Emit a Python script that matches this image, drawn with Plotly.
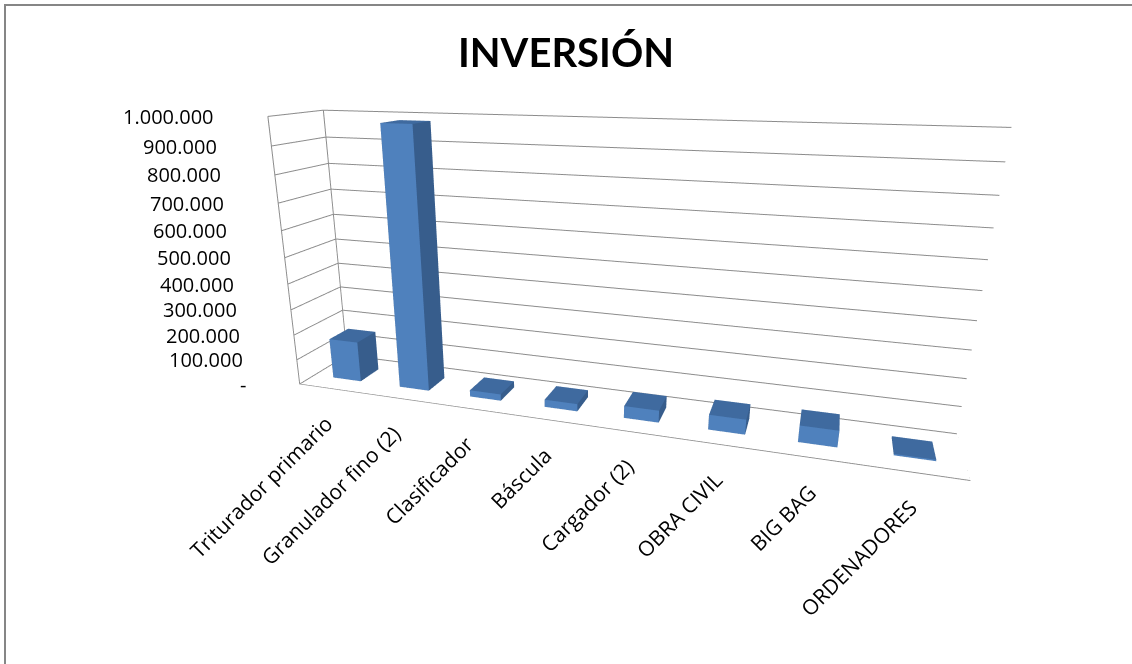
import plotly.graph_objects as go

# Investment per item (euros)
categories = ["Triturador primario", "Granulador fino (2)", "Clasificador", "Báscula",
              "Cargador (2)", "OBRA CIVIL", "BIG BAG", "ORDENADORES"]
values = [160000, 980000, 25000, 28000, 45000, 55000, 60000, 5000]

z_tickvals = [0, 100000, 200000, 300000, 400000, 500000, 600000, 700000, 800000, 900000, 1000000]
z_ticktext = ["-", "100.000", "200.000", "300.000", "400.000", "500.000",
              "600.000", "700.000", "800.000", "900.000", "1.000.000"]

FRONT = "#4F81BD"
SIDE = "#375D8C"
TOP = "#3F6A9F"

half_w = 0.21          # half bar width in category units
depth_lo, depth_hi = 0.3, 0.7   # bar extent along the depth axis
floor_depth = 1.0

xs, ys, zs, ii, jj, kk, fc = [], [], [], [], [], [], []
for idx, v in enumerate(values):
    x0, x1 = idx - half_w, idx + half_w
    base = len(xs)
    corners = [(x0, depth_lo, 0), (x1, depth_lo, 0), (x1, depth_hi, 0), (x0, depth_hi, 0),
               (x0, depth_lo, v), (x1, depth_lo, v), (x1, depth_hi, v), (x0, depth_hi, v)]
    for cx, cy, cz in corners:
        xs.append(cx); ys.append(cy); zs.append(cz)
    faces = [
        ((0, 1, 5), FRONT), ((0, 5, 4), FRONT),      # front
        ((1, 2, 6), SIDE), ((1, 6, 5), SIDE),        # right side
        ((4, 5, 6), TOP), ((4, 6, 7), TOP),          # top
        ((3, 2, 6), SIDE), ((3, 6, 7), SIDE),        # back
        ((0, 3, 7), SIDE), ((0, 7, 4), SIDE),        # left side
        ((0, 1, 2), SIDE), ((0, 2, 3), SIDE),        # bottom
    ]
    for (a, b, c), col in faces:
        ii.append(base + a); jj.append(base + b); kk.append(base + c); fc.append(col)

bars = go.Mesh3d(
    x=xs, y=ys, z=zs, i=ii, j=jj, k=kk, facecolor=fc,
    flatshading=True,
    lighting=dict(ambient=1.0, diffuse=0.0, specular=0.0, roughness=1.0, fresnel=0.0),
    hoverinfo="skip", showscale=False,
)

n = len(categories)
grid_col = "#8C8C8C"

# right edge of the floor
floor_edge = go.Scatter3d(x=[n - 0.5, n - 0.5], y=[0, floor_depth], z=[0, 0], mode="lines",
                          line=dict(color=grid_col, width=2), hoverinfo="skip",
                          showlegend=False)

fig = go.Figure([bars, floor_edge])

label_font = dict(family="Open Sans", size=21, color="black")
tick_font = dict(family="Open Sans", size=20, color="black")

# value labels next to the front edge of the side wall
z_labels = [dict(x=-0.5, y=0, z=zv, text=zt, showarrow=False, xanchor="right",
                 yanchor="middle", xshift=-52, font=tick_font)
            for zv, zt in zip(z_tickvals, z_ticktext)]
# category labels, slanted under each bar
cat_labels = [dict(x=idx, y=0, z=0, text=c, showarrow=False, textangle=-45,
                   xanchor="right", yanchor="top", xshift=8, yshift=-18, font=label_font)
              for idx, c in enumerate(categories)]

fig.update_layout(
    width=1132, height=664,
    margin=dict(l=0, r=0, t=0, b=0),
    paper_bgcolor="white",
    title=dict(text="<b>INVERSIÓN</b>", x=0.5, xanchor="center", y=0.92, yanchor="middle",
               font=dict(family="Lato", size=40, color="black")),
    scene=dict(
        domain=dict(x=[0.0, 1.0], y=[0.0, 1.0]),
        aspectmode="manual",
        aspectratio=dict(x=2.52, y=0.35, z=1.07),
        xaxis=dict(range=[-0.5, n - 0.5], showticklabels=False,
                   showgrid=False, showbackground=False, zeroline=False, showline=False,
                   ticks="", title="", showspikes=False),
        yaxis=dict(range=[0, floor_depth], tickvals=[0, floor_depth], showticklabels=False,
                   showgrid=True, gridcolor=grid_col, gridwidth=2,
                   showbackground=False, zeroline=False, showline=False, ticks="", title="",
                   showspikes=False),
        zaxis=dict(range=[0, 1000000], tickvals=z_tickvals, showticklabels=False,
                   showgrid=True, gridcolor=grid_col, gridwidth=2,
                   showbackground=False, zeroline=False, showline=False, ticks="", title="",
                   showspikes=False),
        camera=dict(eye=dict(x=0.74, y=-2.73, z=0.76), center=dict(x=-0.16, y=0, z=-0.245),
                    up=dict(x=0, y=0, z=1)),
        annotations=z_labels + cat_labels,
    ),
    shapes=[dict(type="rect", xref="paper", yref="paper", x0=5 / 1132, x1=1.01, y0=-0.01,
                 y1=1 - 5 / 664, line=dict(color="#868686", width=2))],
)

fig.write_html("out.html")
